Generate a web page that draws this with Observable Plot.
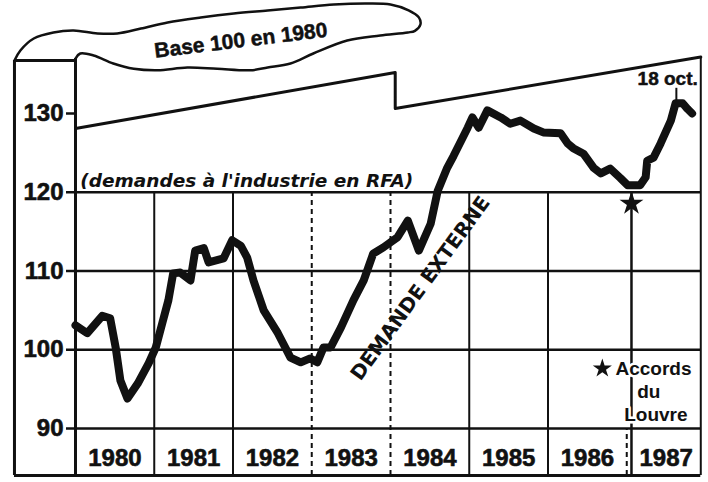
<!DOCTYPE html>
<html><head><meta charset="utf-8">
<script src="https://cdn.jsdelivr.net/npm/d3@7"></script>
<script src="https://cdn.jsdelivr.net/npm/@observablehq/plot@0.6"></script>
<style>body{margin:0;background:#fff}</style>
</head><body><div id="chart"></div>
<script>
// ---- data ----
const years = [1980, 1981, 1982, 1983, 1984, 1985, 1986, 1987];
const yTicks = [90, 100, 110, 120, 130];
const t = [1980.00,1980.15,1980.34,1980.44,1980.51,1980.57,1980.66,1980.79,1980.93,1981.02,1981.10,1981.18,1981.24,1981.33,1981.46,1981.52,1981.63,1981.69,1981.88,1981.99,1982.10,1982.18,1982.26,1982.39,1982.57,1982.73,1982.86,1982.98,1983.07,1983.15,1983.24,1983.37,1983.53,1983.66,1983.78,1983.91,1984.09,1984.22,1984.36,1984.51,1984.60,1984.72,1984.80,1984.98,1985.04,1985.12,1985.23,1985.40,1985.52,1985.65,1985.82,1985.94,1986.16,1986.25,1986.32,1986.45,1986.58,1986.67,1986.79,1986.92,1987.01,1987.17,1987.24,1987.26,1987.34,1987.43,1987.56,1987.62,1987.71,1987.77,1987.83];
const v = [103.1,102.1,104.3,104.0,100.3,96.1,93.8,95.7,98.3,100.3,103.3,106.3,109.7,109.8,108.8,112.6,112.9,111.1,111.6,113.9,113.2,111.7,108.8,105.0,102.1,99.0,98.4,98.9,98.4,100.3,100.3,102.8,106.3,108.8,112.2,113.0,114.3,116.4,112.6,116.0,120.2,123.1,124.6,128.2,129.5,128.2,130.4,129.5,128.7,129.1,128.1,127.6,127.5,126.2,125.6,124.9,123.1,122.4,123.0,121.8,120.9,120.9,121.9,124.0,124.4,126.2,129.1,131.3,131.3,130.6,130.0];
const series = t.map((d, i) => ({date: d, value: v[i]}));
const solidYears = [1981, 1982, 1985, 1986];
const dashedYears = [1983, 1984];
const louvre = 1987.06;
const october18 = 1987.63;
// decorative outlines in data units (year, index)
const roof = [[1980, 128.1], [1984.06, 135.21], [1984.06, 130.63], [1987.94, 137.17]];
const banner = [[1979.225,136.73],[1979.30,138.0],[1979.47,139.52],[1979.72,140.29],[1979.975,140.54],[1980.28,140.16],[1980.53,140.16],[1980.83,140.79],[1981.17,141.56],[1981.59,142.19],[1982.01,142.70],[1982.44,143.08],[1982.86,143.46],[1983.28,143.84],[1983.71,143.97],[1984.0,143.84],[1984.23,143.1],[1984.36,142.2],[1984.38,141.3],[1984.31,140.5],[1984.22,140.29],[1983.87,139.90],[1983.45,139.27],[1983.02,137.62],[1982.73,136.35],[1982.44,135.84],[1982.22,135.49],[1981.80,135.68],[1981.42,135.84],[1981.04,135.49],[1980.74,135.68],[1980.48,136.35],[1980.23,137.37],[1980.06,137.62],[1980.0,136.98]];

const BOTTOM = 84.03, LEFT = 1979.225, RIGHT = 1987.94;
const ink = "#111";
const sans = "Liberation Sans, Arial, Helvetica, sans-serif";

const chart = Plot.plot({
  width: 708, height: 482,
  marginLeft: 75, marginRight: 8, marginTop: 0, marginBottom: 7,
  style: {background: "#fff", fontFamily: sans, color: ink, overflow: "visible"},
  x: {type: "linear", domain: [1980, 1988], range: [75, 705], axis: null},
  y: {domain: [90, 130], range: [428, 113]},
  marks: [
    // grid
    Plot.ruleY([90, 100, 110, 120], {x1: 1980, x2: RIGHT, stroke: ink, strokeWidth: 2.5}),
    Plot.ruleX(solidYears, {y1: BOTTOM, y2: 120, stroke: ink, strokeWidth: 2}),
    Plot.ruleX(dashedYears, {y1: BOTTOM, y2: 120, stroke: ink, strokeWidth: 2, strokeDasharray: "5,4"}),
    Plot.ruleX([1987], {y1: BOTTOM, y2: 90, stroke: ink, strokeWidth: 2, strokeDasharray: "5,4"}),
    Plot.ruleX([louvre], {y1: BOTTOM, y2: 120, stroke: ink, strokeWidth: 2.5}),
    // frame
    Plot.ruleX([LEFT], {y1: BOTTOM, y2: 136.73, stroke: ink, strokeWidth: 3}),
    Plot.ruleY([BOTTOM], {x1: LEFT, x2: RIGHT, stroke: ink, strokeWidth: 3}),
    Plot.ruleY([136.73], {x1: LEFT, x2: 1980, stroke: ink, strokeWidth: 3}),
    Plot.ruleX([1980], {y1: BOTTOM, y2: 136.98, stroke: ink, strokeWidth: 3}),
    Plot.ruleX([RIGHT], {y1: BOTTOM, y2: 137.17, stroke: ink, strokeWidth: 2}),
    Plot.line(roof, {x: d => d[0], y: d => d[1], stroke: ink, strokeWidth: 3}),
    Plot.line(banner, {x: d => d[0], y: d => d[1], curve: "catmull-rom", stroke: ink, strokeWidth: 2.5}),
    Plot.text(["Base 100 en 1980"], {x: 1982.1, y: 139.27, text: d => d, rotate: -7, fontSize: 21, fontWeight: "bold", fill: ink, stroke: ink, strokeWidth: 0.5}),
    // axis
    Plot.axisY(yTicks, {anchor: "left", tickSize: 9, tickPadding: 3, fontSize: 24, fontWeight: "bold", strokeWidth: 2.5, label: null, tickFormat: d => String(d), textStroke: ink, textStrokeWidth: 0.6}),
    Plot.text(years, {x: d => d + 0.5, y: 86.2, text: d => String(d), fontSize: 24, fontWeight: "bold", fill: ink, stroke: ink, strokeWidth: 0.6}),
    // annotations
    Plot.text(["(demandes à l'industrie en RFA)"], {x: 1980.06, y: 121.4, text: d => d, textAnchor: "start", fontSize: 18.5, fontWeight: "bold", fontStyle: "italic", fontFamily: "DejaVu Sans, sans-serif", fill: ink}),
    Plot.text(["DEMANDE EXTERNE"], {x: 1984.38, y: 107.8, text: d => d, rotate: -54, fontSize: 20, fontWeight: "bold", fontFamily: "DejaVu Sans, sans-serif", fill: ink}),
    Plot.ruleX([october18], {y1: 131.5, y2: 133.2, stroke: ink, strokeWidth: 2}),
    Plot.text(["18 oct."], {x: 1987.52, y: 134.44, text: d => d, fontSize: 19, fontWeight: "bold", fill: ink, stroke: ink, strokeWidth: 0.5}),
    Plot.text(["Accords", "du", "Louvre"], {x: [1987.34, 1987.28, 1987.37], y: [97.62, 94.7, 91.78], text: d => d, fontSize: 19, fontWeight: "bold", fill: ink, stroke: "#fff", strokeWidth: 5, paintOrder: "stroke"}),
    Plot.dot([0], {x: 1986.69, y: 97.62, symbol: "star", r: 6, fill: ink}),
    // the series
    Plot.line(series, {x: "date", y: "value", stroke: ink, strokeWidth: 8, strokeLinejoin: "round", strokeLinecap: "round"}),
    Plot.dot([0], {x: louvre, y: 118.57, symbol: "star", r: 7.5, fill: ink})
  ]
});
document.getElementById("chart").appendChild(chart);
</script>
</body></html>
